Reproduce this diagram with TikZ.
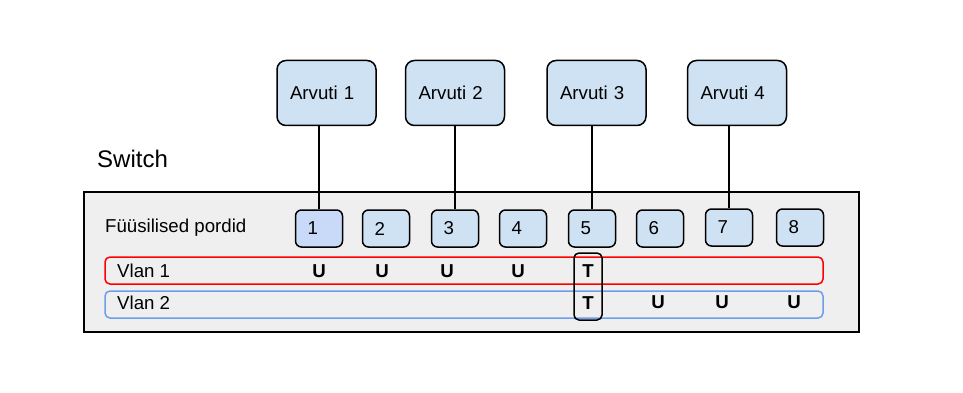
\documentclass[tikz,border=0pt]{standalone}
\usepackage{fontspec}
\setmainfont{Liberation Sans}
\definecolor{arvfill}{HTML}{CFE2F3}
\definecolor{portone}{HTML}{C9DAF8}
\definecolor{swfill}{HTML}{EFEFEF}
\definecolor{vlanred}{HTML}{FF0000}
\definecolor{vlanblue}{HTML}{6D9EEB}
\newcommand{\fsnorm}{\fontsize{18.67}{22}\selectfont}
\newcommand{\fsbig}{\fontsize{24}{28}\selectfont}
\begin{document}
\begin{tikzpicture}[x=1pt,y=-1pt,
  arv/.style={draw=black, line width=1.5pt, rounded corners=9pt, fill=arvfill,
    minimum height=65pt, text width=73pt, inner xsep=13pt, inner ysep=0pt, align=left, font=\fsnorm},
  portbox/.style={draw=black, line width=1.5pt, rounded corners=6pt, fill=arvfill,
    minimum height=37pt, text width=23pt, inner xsep=12pt, inner ysep=0pt, align=left, font=\fsnorm},
  vlanbox/.style={line width=1.5pt, rounded corners=5pt, minimum width=718pt, minimum height=27pt, inner sep=0pt},
  lbl/.style={anchor=west, inner sep=0pt, font=\fsnorm},
  tag/.style={inner sep=0pt, font=\fsnorm\bfseries},
  wire/.style={line width=1.6pt, draw=black}
]
\useasboundingbox (0,0) rectangle (963,393);

% switch body
\node[draw=black, line width=1.2pt, fill=swfill, minimum width=775pt, minimum height=140pt, inner sep=0pt] (sw) at (471.5,262) {};
\node[lbl, font=\fsbig] (swlabel) at (97,159) {Switch};
\node[lbl] (fp) at (105,228) {Füüsilised pordid};

% computers
\node[arv] (a1) at (326.5,93) {Arvuti 1};
\node[arv] (a2) at (455,93) {Arvuti 2};
\node[arv] (a3) at (596.5,93) {Arvuti 3};
\node[arv] (a4) at (737,93) {Arvuti 4};

% ports
\node[portbox, fill=portone] (p1) at (319,228.5) {1};
\node[portbox] (p2) at (386,228.5) {2};
\node[portbox] (p3) at (455,228.5) {3};
\node[portbox] (p4) at (523,228.5) {4};
\node[portbox] (p5) at (592,228.5) {5};
\node[portbox] (p6) at (660,228.5) {6};
\node[portbox] (p7) at (729,227.5) {7};
\node[portbox] (p8) at (800,227.5) {8};

% wires
\draw[wire] (p1.north) -- (p1.north |- a1.south);
\draw[wire] (p3.north) -- (p3.north |- a2.south);
\draw[wire] (p5.north) -- (p5.north |- a3.south);
\draw[wire] (p7.north) -- (p7.north |- a4.south);

% vlans
\node[vlanbox, draw=vlanred] (v1) at (464,270.5) {};
\node[vlanbox, draw=vlanblue] (v2) at (464,304.5) {};
\node[lbl] (v1l) at (117,271) {Vlan 1};
\node[lbl] (v2l) at (117,303) {Vlan 2};

% tagged box
\node[draw=black, line width=1.5pt, rounded corners=5pt, minimum width=28pt, minimum height=67pt, inner sep=0pt] (tb) at (588,286.5) {};

% tags
\node[tag] (u11) at (319,271) {U};
\node[tag] (u12) at (382,271) {U};
\node[tag] (u13) at (447,271) {U};
\node[tag] (u14) at (518,271) {U};
\node[tag] (t15) at (588,271) {T};
\node[tag] (t25) at (588,303) {T};
\node[tag] (u26) at (658,302) {U};
\node[tag] (u27) at (722,302) {U};
\node[tag] (u28) at (794,302) {U};
\end{tikzpicture}
\end{document}
